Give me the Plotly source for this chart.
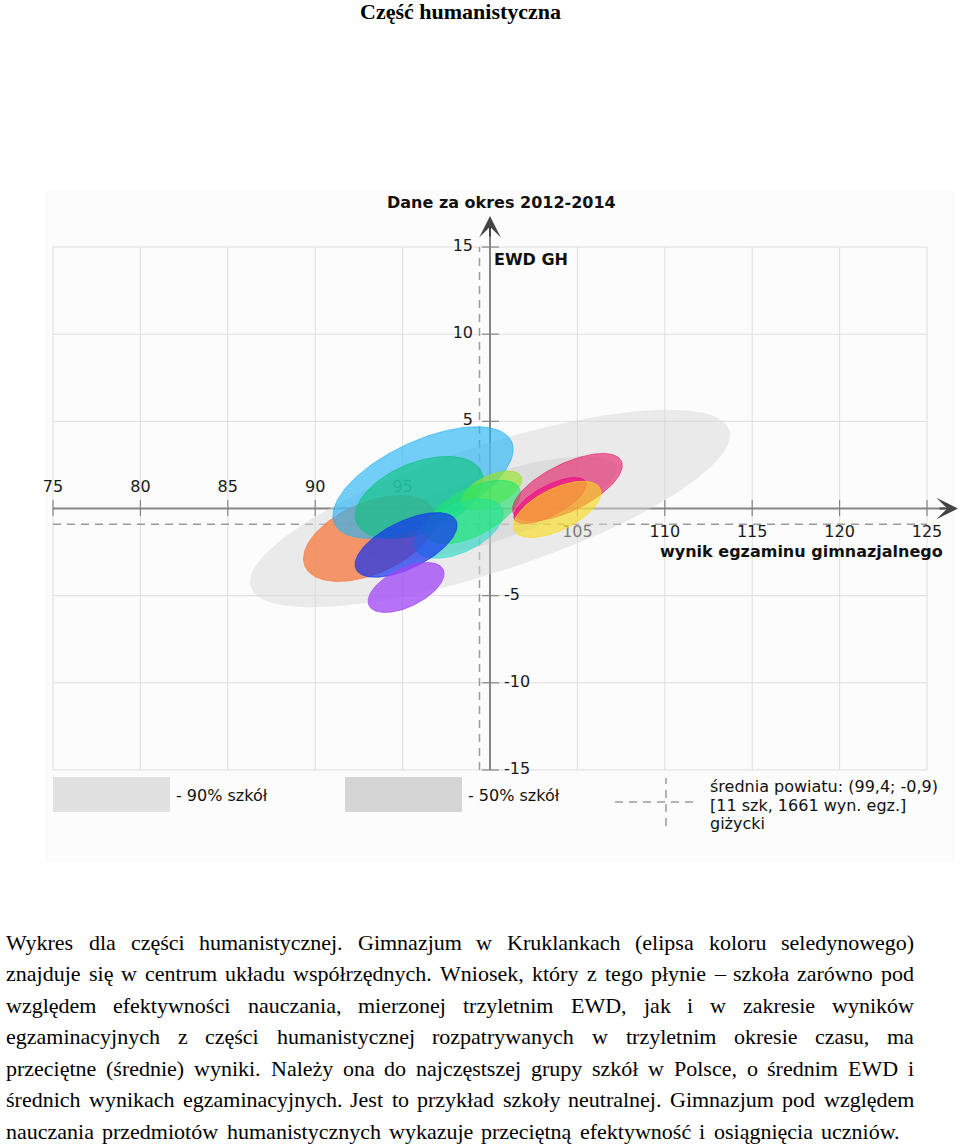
import numpy as np
import plotly.graph_objects as go

# ---------------- data ----------------
x_labels_above = [75, 80, 85, 90, 95]
x_labels_below = [105, 110, 115, 120, 125]
y_labels_pos = [15, 10, 5]
y_labels_neg = [-5, -10, -15]
grid_x = [75, 80, 85, 90, 95, 100, 105, 110, 115, 120, 125]
grid_y = [-15, -10, -5, 0, 5, 10, 15]

county_mean = (99.4, -0.9)

# national reference ellipses (90% and 50% of schools)
ref_cx = [100.0, 100.0]
ref_cy = [0.0, 0.0]
ref_a = [14.4, 7.6]
ref_b = [3.6, 1.9]
ref_angle = [18.2, 18.2]

# schools of the county (centre = mean exam result / mean EWD)
school_cx = [93.1, 96.17, 95.95, 100.1, 98.2, 99.0, 95.2, 95.2, 104.43, 103.43, 103.84]
school_cy = [-1.72, 1.49, 0.63, 1.05, -1.15, -0.2, -2.09, -4.53, 1.22, 0.46, -0.05]
school_a = [4.01, 5.58, 3.85, 1.85, 2.74, 3.0, 3.18, 2.36, 3.43, 2.30, 2.73]
school_b = [2.04, 2.37, 2.00, 0.85, 1.37, 1.35, 1.35, 1.10, 1.35, 0.85, 1.19]
school_angle = [23.4, 25.0, 22.0, 25.0, 25.0, 27.0, 26.0, 26.0, 26.0, 28.0, 26.0]

paragraph_lines = [
    "Wykres dla części humanistycznej. Gimnazjum w Kruklankach (elipsa koloru seledynowego)",
    "znajduje się w centrum układu współrzędnych.  Wniosek, który z tego płynie – szkoła zarówno pod",
    "względem efektywności nauczania, mierzonej trzyletnim EWD, jak i w zakresie wyników",
    "egzaminacyjnych z części humanistycznej rozpatrywanych w trzyletnim okresie czasu, ma",
    "przeciętne (średnie) wyniki. Należy ona do najczęstszej grupy szkół w Polsce, o średnim EWD i",
    "średnich wynikach egzaminacyjnych. Jest to przykład szkoły neutralnej. Gimnazjum pod względem",
    "nauczania przedmiotów humanistycznych wykazuje przeciętną efektywność i osiągnięcia uczniów.",
]

# ---------------- styles ----------------
school_colors = [
    (245, 120, 60, 0.75),   # orange
    (40, 180, 245, 0.65),   # sky blue
    (10, 195, 120, 0.60),   # green
    (150, 230, 40, 0.65),   # lime
    (40, 220, 200, 0.60),   # turquoise
    (30, 230, 110, 0.60),   # spring green
    (20, 50, 240, 0.70),    # royal blue
    (160, 70, 245, 0.75),   # violet
    (230, 40, 110, 0.65),   # pink
    (240, 0, 130, 0.60),    # magenta
    (250, 220, 20, 0.60),   # yellow
]
ref_colors = [(215, 215, 215, 0.5), (195, 195, 195, 0.35)]

W, H = 960, 1145
SX, SY = 17.48, 17.43          # px per unit
X75_PX, Y0_PX = 53.0, 508.5


def xd(px):
    return 75 + (px - X75_PX) / SX


def yd(py):
    return (Y0_PX - py) / SY


def pxp(px):
    return px / W


def pyp(py):
    return 1 - py / H


def ellipse(cx, cy, a, b, ang):
    t = np.linspace(0, 2 * np.pi, 145)
    th = np.radians(ang)
    k = SX / SY
    x = cx + a * np.cos(t) * np.cos(th) - b * np.sin(t) * np.sin(th)
    y = cy + (a * np.cos(t) * np.sin(th) + b * np.sin(t) * np.cos(th)) * k
    return x, y


def rgba(c, alpha=None):
    return "rgba(%d,%d,%d,%s)" % (c[0], c[1], c[2], c[3] if alpha is None else alpha)


SANS = "DejaVu Sans"
SERIF = "Liberation Serif"
CFS = 16
fig = go.Figure()

# tick labels (drawn below the ellipses)
fig.add_trace(go.Scatter(x=x_labels_above, y=[yd(488)] * len(x_labels_above),
                         text=[str(v) for v in x_labels_above], mode="text",
                         textfont=dict(family=SANS, size=CFS, color="#1a1a1a"),
                         hoverinfo="skip", showlegend=False))
fig.add_trace(go.Scatter(x=x_labels_below, y=[yd(533)] * len(x_labels_below),
                         text=[str(v) for v in x_labels_below], mode="text",
                         textfont=dict(family=SANS, size=CFS, color="#1a1a1a"),
                         hoverinfo="skip", showlegend=False))
fig.add_trace(go.Scatter(x=[xd(473)] * 3, y=y_labels_pos,
                         text=[str(v) for v in y_labels_pos], mode="text",
                         textposition="middle left",
                         textfont=dict(family=SANS, size=CFS, color="#1a1a1a"),
                         hoverinfo="skip", showlegend=False))
fig.add_trace(go.Scatter(x=[xd(504)] * 3, y=y_labels_neg,
                         text=[str(v) for v in y_labels_neg], mode="text",
                         textposition="middle right",
                         textfont=dict(family=SANS, size=CFS, color="#1a1a1a"),
                         hoverinfo="skip", showlegend=False))

# reference ellipses
for i in range(len(ref_cx)):
    ex, ey = ellipse(ref_cx[i], ref_cy[i], ref_a[i], ref_b[i], ref_angle[i])
    fig.add_trace(go.Scatter(x=ex, y=ey, mode="lines", fill="toself",
                             fillcolor=rgba(ref_colors[i]), line=dict(width=0),
                             hoverinfo="skip", showlegend=False))
# school ellipses
for i in range(len(school_cx)):
    ex, ey = ellipse(school_cx[i], school_cy[i], school_a[i], school_b[i], school_angle[i])
    c = school_colors[i]
    fig.add_trace(go.Scatter(x=ex, y=ey, mode="lines", fill="toself",
                             fillcolor=rgba(c), line=dict(width=0.8, color=rgba(c, 0.85)),
                             hoverinfo="skip", showlegend=False))

shapes = []
# faint panel
shapes.append(dict(type="rect", xref="paper", yref="paper", x0=pxp(45), x1=pxp(955),
                   y0=pyp(862), y1=pyp(190), fillcolor="#fcfcfc", line=dict(width=0), layer="below"))
for gx in grid_x:
    shapes.append(dict(type="line", xref="x", yref="y", x0=gx, x1=gx, y0=-15, y1=15,
                       line=dict(color="#dedede", width=1), layer="below"))
for gy in grid_y:
    shapes.append(dict(type="line", xref="x", yref="y", x0=75, x1=125, y0=gy, y1=gy,
                       line=dict(color="#dedede", width=1), layer="below"))
# county mean dashed lines
shapes.append(dict(type="line", xref="x", yref="y", x0=75, x1=125, y0=county_mean[1], y1=county_mean[1],
                   line=dict(color="#9a9a9a", width=1.5, dash="8px,6px"), layer="below"))
shapes.append(dict(type="line", xref="x", yref="y", x0=county_mean[0], x1=county_mean[0], y0=-15, y1=15,
                   line=dict(color="#9a9a9a", width=1.5, dash="8px,6px"), layer="below"))
# main axes
shapes.append(dict(type="line", xref="x", yref="y", x0=75, x1=xd(945), y0=0, y1=0,
                   line=dict(color="#858585", width=2), layer="below"))
shapes.append(dict(type="line", xref="x", yref="y", x0=100, x1=100, y0=-15, y1=yd(230),
                   line=dict(color="#858585", width=2), layer="below"))
# ticks
for gx in grid_x:
    if gx != 100:
        shapes.append(dict(type="line", xref="x", yref="y", x0=gx, x1=gx, y0=yd(500), y1=yd(516),
                           line=dict(color="#858585", width=1.2), layer="below"))
for gy in grid_y:
    if gy != 0:
        shapes.append(dict(type="line", xref="x", yref="y", x0=xd(482), x1=xd(499), y0=gy, y1=gy,
                           line=dict(color="#858585", width=1.2), layer="below"))
# legend boxes
shapes.append(dict(type="rect", xref="paper", yref="paper", x0=pxp(53), x1=pxp(170),
                   y0=pyp(812), y1=pyp(777), fillcolor="#e1e1e1", line=dict(width=0)))
shapes.append(dict(type="rect", xref="paper", yref="paper", x0=pxp(345), x1=pxp(462),
                   y0=pyp(812), y1=pyp(777), fillcolor="#d5d5d5", line=dict(width=0)))
shapes.append(dict(type="line", xref="paper", yref="paper", x0=pxp(615), x1=pxp(697),
                   y0=pyp(802), y1=pyp(802), line=dict(color="#9a9a9a", width=1.5, dash="8px,6px")))
shapes.append(dict(type="line", xref="paper", yref="paper", x0=pxp(666), x1=pxp(666),
                   y0=pyp(826), y1=pyp(778), line=dict(color="#9a9a9a", width=1.5, dash="8px,6px")))

ann = []
# axis arrows
ann.append(dict(x=xd(958), y=0, ax=xd(938), ay=0, xref="x", yref="y", axref="x", ayref="y",
                text="", showarrow=True, arrowhead=3, arrowsize=1.8, arrowwidth=2,
                arrowcolor="#444444"))
ann.append(dict(x=100, y=yd(216), ax=100, ay=yd(238), xref="x", yref="y", axref="x", ayref="y",
                text="", showarrow=True, arrowhead=3, arrowsize=1.8, arrowwidth=2,
                arrowcolor="#444444"))


def txt(text, px, py, size, family=SANS, anchor="left", color="#111111"):
    ann.append(dict(text=text, x=pxp(px), y=pyp(py), xref="paper", yref="paper",
                    xanchor=anchor, yanchor="middle", showarrow=False,
                    font=dict(family=family, size=size, color=color)))


txt("<b>Część humanistyczna</b>", 460, 11.5, 22, family=SERIF, anchor="center", color="#000")
txt("<b>Dane za okres 2012-2014</b>", 501, 203, CFS, anchor="center")
txt("<b>EWD GH</b>", 492, 259, CFS)
txt("<b>wynik egzaminu gimnazjalnego</b>", 945, 552, CFS, anchor="right")
txt("- 90% szkół", 174, 795, CFS)
txt("- 50% szkół", 466, 795, CFS)
txt("średnia powiatu: (%s; %s)" % (str(county_mean[0]).replace(".", ","),
                                   str(county_mean[1]).replace(".", ",")), 708, 786, CFS)
txt("[11 szk, 1661 wyn. egz.]", 708, 805, CFS)
txt("giżycki", 708, 824, CFS)

# justified paragraph (Times metrics)
TW = {' ': 250, '.': 250, ',': 250, '(': 333, ')': 333, '–': 500, '-': 333, ';': 278, ':': 278,
      'a': 444, 'b': 500, 'c': 444, 'd': 500, 'e': 444, 'f': 333, 'g': 500, 'h': 500, 'i': 278,
      'j': 278, 'k': 500, 'l': 278, 'm': 778, 'n': 500, 'o': 500, 'p': 500, 'q': 500, 'r': 333,
      's': 389, 't': 278, 'u': 500, 'v': 500, 'w': 722, 'x': 500, 'y': 500, 'z': 444,
      'ą': 444, 'ć': 444, 'ę': 444, 'ł': 278, 'ń': 500, 'ó': 500, 'ś': 389, 'ź': 444, 'ż': 444,
      'W': 944, 'G': 722, 'K': 722, 'E': 611, 'D': 722, 'J': 389, 'P': 556, 'N': 722}
FS = 22
line_y = [942, 973.5, 1005, 1036.5, 1068, 1099.5, 1131]
line_right = [913, 913, 913, 913, 913, 913, 900]
LEFT = 5
for li, line in enumerate(paragraph_lines):
    words = line.split()
    widths = [sum(TW.get(ch, 500) for ch in w) * FS / 1000.0 for w in words]
    gap = (line_right[li] - LEFT - sum(widths)) / (len(words) - 1)
    xpos = LEFT
    for w, wd in zip(words, widths):
        txt(w, xpos - 1, line_y[li], FS, family=SERIF, color="#000")
        xpos += wd + gap

fig.update_layout(
    width=W, height=H, margin=dict(l=0, r=0, t=0, b=0),
    paper_bgcolor="white", plot_bgcolor="white",
    xaxis=dict(range=[xd(0), xd(W)], visible=False, fixedrange=True),
    yaxis=dict(range=[yd(H), yd(0)], visible=False, fixedrange=True),
    shapes=shapes, annotations=ann, showlegend=False,
)

fig.write_html("out.html", config={"displayModeBar": False},
               post_script="document.body.style.margin='0px';")
